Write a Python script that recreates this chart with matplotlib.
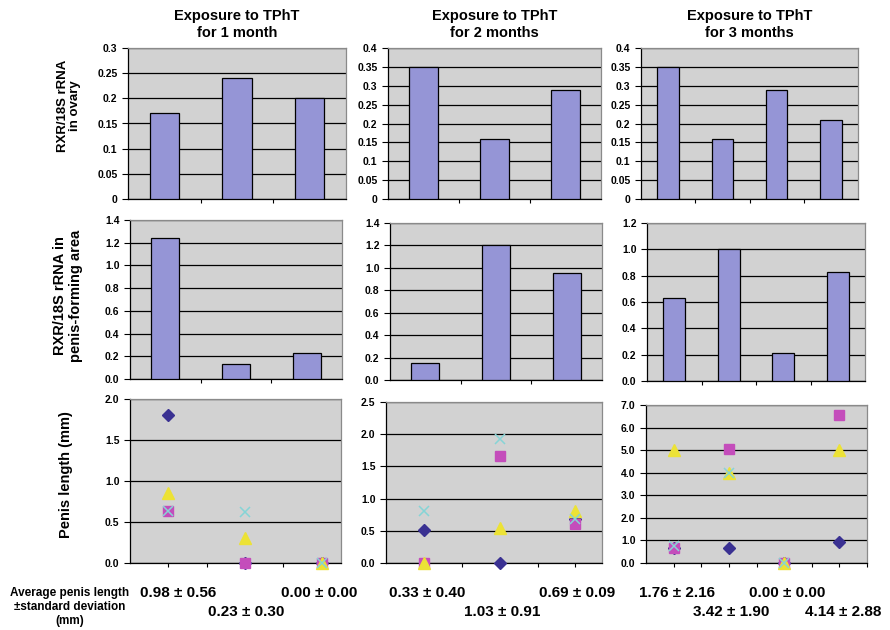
import numpy as np
import matplotlib
matplotlib.use('Agg')
import matplotlib.pyplot as plt
from matplotlib.ticker import FuncFormatter, MultipleLocator

plt.rcParams['font.family'] = ['Liberation Sans', 'DejaVu Sans']

# ---- data ----
titles = ['Exposure to TPhT\nfor 1 month',
          'Exposure to TPhT\nfor 2 months',
          'Exposure to TPhT\nfor 3 months']

ovary_1m = [0.17, 0.24, 0.20]
ovary_2m = [0.35, 0.16, 0.29]
ovary_3m = [0.35, 0.16, 0.29, 0.21]

penis_area_1m = [1.24, 0.13, 0.23]
penis_area_2m = [0.15, 1.20, 0.95]
penis_area_3m = [0.63, 1.00, 0.21, 0.83]

# individual penis lengths (4 animals, one series per marker)
len_1m = {'diamond': [1.80, 0.00, 0.00],
          'square': [0.63, 0.00, 0.00],
          'triangle': [0.85, 0.30, 0.00],
          'cross': [0.63, 0.62, 0.00]}
len_2m = {'diamond': [0.52, 0.00, 0.68],
          'square': [0.00, 1.66, 0.60],
          'triangle': [0.00, 0.54, 0.80],
          'cross': [0.80, 1.92, 0.68]}
len_3m = {'diamond': [0.65, 0.65, 0.00, 0.95],
          'square': [0.65, 5.05, 0.00, 6.55],
          'triangle': [5.00, 4.00, 0.00, 5.00],
          'cross': [0.75, 4.00, 0.00, np.nan]}

avg_labels_1m = ['0.98 \u00b1 0.56', '0.23 \u00b1 0.30', '0.00 \u00b1 0.00']
avg_labels_2m = ['0.33 \u00b1 0.40', '1.03 \u00b1 0.91', '0.69 \u00b1 0.09']
avg_labels_3m = ['1.76 \u00b1 2.16', '3.42 \u00b1 1.90', '0.00 \u00b1 0.00', '4.14 \u00b1 2.88']

row_labels = ['RXR/18S rRNA\nin ovary',
              'RXR/18S rRNA in\npenis-forming area',
              'Penis length (mm)']

# ---- layout (pixels: left, right, top, bottom) ----
W, H = 890, 630
fig = plt.figure(figsize=(W / 100, H / 100), dpi=100, facecolor='white')

def add_ax(l, r, t, b):
    return fig.add_axes([l / W, (H - b) / H, (r - l) / W, (b - t) / H])

top_boxes = [(128, 346, 48, 199), (388, 601, 48, 199), (641, 858, 48, 199)]
mid_boxes = [(130, 342, 220, 379), (390, 602, 223, 380), (647, 865, 223, 381)]
bot_boxes = [(130, 341, 399, 563), (386, 602, 402, 563), (646, 867, 405, 563)]

BG = '#d2d2d2'
BAR = '#9595d6'

def style(ax):
    ax.set_facecolor(BG)
    ax.set_axisbelow(True)
    ax.yaxis.grid(True, color='black', linewidth=0.9)
    ax.xaxis.grid(False)
    for s in ['top', 'right']:
        ax.spines[s].set_color('#8a8a8a')
    for s in ['left', 'bottom']:
        ax.spines[s].set_color('black')
    for s in ax.spines.values():
        s.set_linewidth(0.9)
    ax.tick_params(axis='y', direction='out', length=4, width=0.8,
                   labelsize=7.5)
    ax.tick_params(axis='x', direction='out', length=3, width=0.8,
                   labelbottom=False)
    for lab in ax.get_yticklabels():
        lab.set_fontweight('bold')

def bar_panel(ax, vals, ymax, step, fmt):
    x = np.arange(len(vals))
    ax.bar(x, vals, width=0.4, color=BAR, edgecolor='black', linewidth=0.9,
           zorder=3)
    ax.set_xlim(-0.5, len(vals) - 0.5)
    ax.set_xticks(np.arange(len(vals) - 1) + 0.5)
    ax.set_ylim(0, ymax)
    ax.yaxis.set_major_locator(MultipleLocator(step))
    ax.yaxis.set_major_formatter(FuncFormatter(fmt))
    style(ax)

fmt_g = lambda v, p: '{:g}'.format(round(v, 3))
fmt_1 = lambda v, p: '{:.1f}'.format(v)

ovary = [ovary_1m, ovary_2m, ovary_3m]
ovary_max = [0.3, 0.4, 0.4]
for i in range(3):
    ax = add_ax(*top_boxes[i])
    bar_panel(ax, ovary[i], ovary_max[i], 0.05, fmt_g)
    ax.set_title(titles[i], fontsize=10.5, fontweight='bold', pad=8,
                 linespacing=1.3)

penis_area = [penis_area_1m, penis_area_2m, penis_area_3m]
area_max = [1.4, 1.4, 1.2]
for i in range(3):
    ax = add_ax(*mid_boxes[i])
    bar_panel(ax, penis_area[i], area_max[i], 0.2, fmt_1)

markers = {'diamond': dict(marker='D', color='#3a3192', ms=6),
           'square': dict(marker='s', color='#c44dbb', ms=7),
           'triangle': dict(marker='^', color='#ece236', ms=8.5),
           'cross': dict(marker='x', color='#86d4d6', ms=7, mew=1.1)}

lengths = [len_1m, len_2m, len_3m]
len_max = [2.0, 2.5, 7.0]
len_step = [0.5, 0.5, 1.0]
x_right = [3.25, 3.35, 4.5]
for i in range(3):
    ax = add_ax(*bot_boxes[i])
    data = lengths[i]
    for name in ['diamond', 'square', 'triangle', 'cross']:
        y = data[name]
        x = np.arange(1, len(y) + 1)
        ax.plot(x, y, linestyle='none', clip_on=False, zorder=4,
                **markers[name])
    ax.set_xlim(0.5, x_right[i])
    ax.set_xticks(np.arange(1, x_right[i] + 0.01, 0.5))
    ax.set_ylim(0, len_max[i])
    ax.yaxis.set_major_locator(MultipleLocator(len_step[i]))
    ax.yaxis.set_major_formatter(FuncFormatter(fmt_1))
    style(ax)

# ---- row labels ----
label_pos = [(69, 106, 9.5), (68, 296, 10.5), (66, 475, 10.5)]
for lab, (px, py, fs) in zip(row_labels, label_pos):
    fig.text(px / W, 1 - py / H, lab, rotation=90, ha='center', va='center',
             fontsize=fs, fontweight='bold', linespacing=1.1)

# ---- averages under the panels ----
fig.text(70 / W, 1 - 607 / H,
         'Average penis length\n\u00b1standard deviation\n(mm)',
         ha='center', va='center', fontsize=8.5, fontweight='bold',
         linespacing=1.25)

avg_labels = avg_labels_1m + avg_labels_2m + avg_labels_3m
avg_x = [178, 246, 319, 427, 502, 577, 677, 731, 787, 843]
avg_y = [593, 612, 593, 593, 612, 593, 593, 612, 593, 612]
for lab, px, py in zip(avg_labels, avg_x, avg_y):
    fig.text(px / W, 1 - py / H, lab, ha='center', va='center',
             fontsize=11, fontweight='bold')

fig.savefig('out.png', dpi=100, facecolor='white')
